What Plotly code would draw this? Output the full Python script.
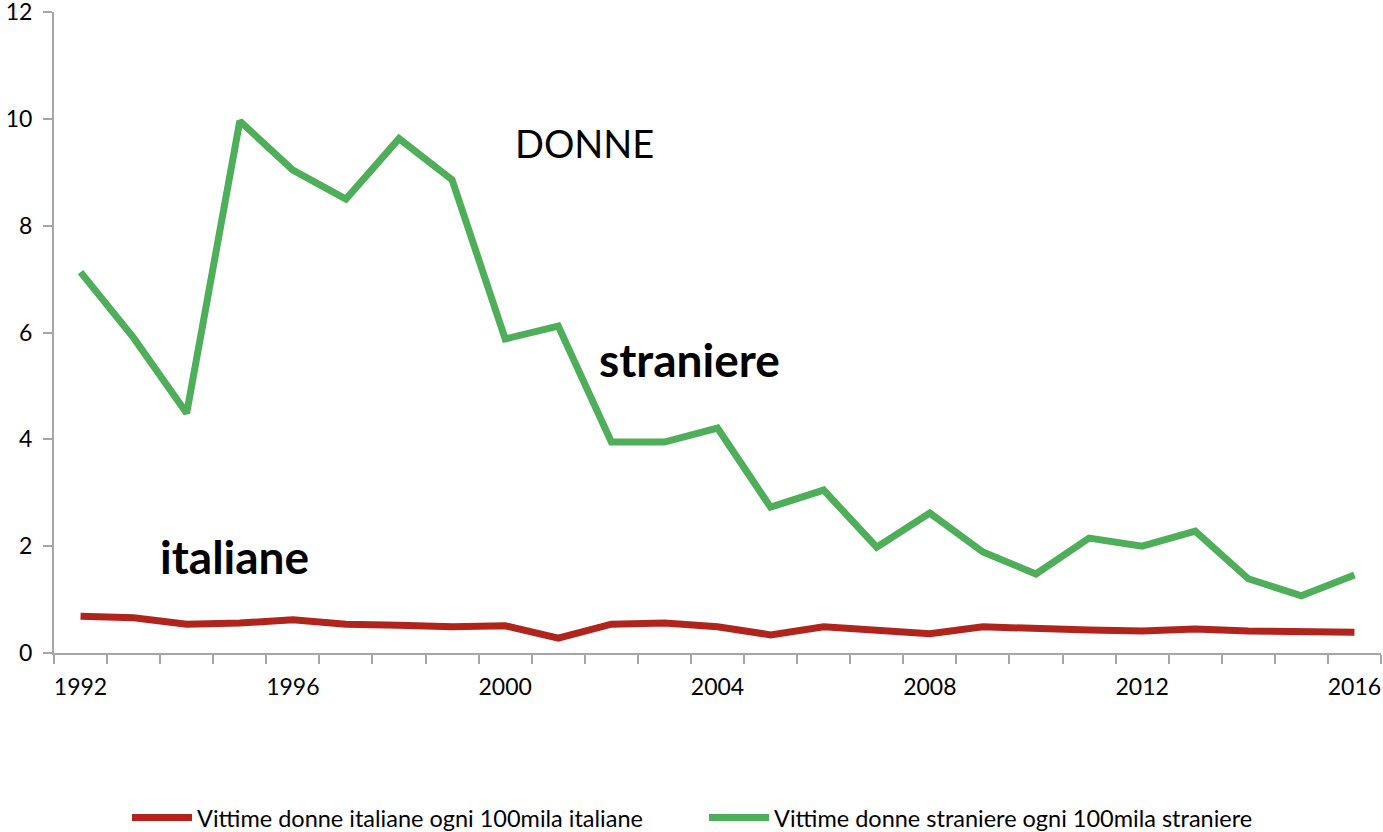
import plotly.graph_objects as go

anni = list(range(1992, 2017))

italiane = [0.69, 0.66, 0.54, 0.56, 0.62, 0.54, 0.52, 0.49, 0.51, 0.28,
            0.54, 0.56, 0.49, 0.34, 0.49, 0.41, 0.36, 0.49, 0.45, 0.43,
            0.41, 0.45, 0.41, 0.41, 0.39]

straniere = [7.13, 5.9, 4.49, 9.96, 9.04, 8.5, 9.63, 8.86, 5.88, 6.12,
             3.95, 3.95, 4.21, 2.73, 3.05, 1.98, 2.62, 1.89, 1.48, 2.15,
             2.0, 2.28, 1.39, 1.07, 1.46]

etichette_x = [1992, 1996, 2000, 2004, 2008, 2012, 2016]
etichette_y = [0, 2, 4, 6, 8, 10, 12]

font = "Lato, Liberation Sans, sans-serif"

fig = go.Figure()
fig.add_trace(go.Scatter(x=anni, y=italiane, mode="lines",
                         name="Vittime donne italiane ogni 100mila italiane",
                         line=dict(color="#B0241C", width=7)))
fig.add_trace(go.Scatter(x=anni, y=straniere, mode="lines",
                         name="Vittime donne straniere ogni 100mila straniere",
                         line=dict(color="#4FAE5A", width=7)))

fig.add_annotation(x=2001.5, y=9.55, text="DONNE", showarrow=False,
                   font=dict(size=38, color="black", family=font))
fig.add_annotation(x=2003.47, y=5.49, text="<b>straniere</b>", showarrow=False,
                   font=dict(size=46, color="black", family=font))
fig.add_annotation(x=1994.9, y=1.8, text="<b>italiane</b>", showarrow=False,
                   font=dict(size=46, color="black", family=font))

fig.update_xaxes(range=[1991.5, 2016.5], tickvals=etichette_x, ticks="",
                 showgrid=False, zeroline=False, showline=True,
                 linecolor="#A6A6A6", linewidth=2, automargin=False,
                 tickfont=dict(size=23, color="black", family=font),
                 ticklabelstandoff=12, ticklabeloverflow="allow",
                 minor=dict(ticks="outside", tick0=1991.5, dtick=1,
                            ticklen=9, tickcolor="#A6A6A6", tickwidth=2,
                            showgrid=False))
fig.update_yaxes(range=[0, 12.001], tickvals=etichette_y, ticks="outside",
                 ticklen=9, tickcolor="#A6A6A6", tickwidth=2,
                 showgrid=False, zeroline=False, showline=True,
                 linecolor="#A6A6A6", linewidth=2, automargin=False,
                 tickfont=dict(size=23, color="black", family=font),
                 ticklabelstandoff=6, ticklabeloverflow="allow")

fig.update_layout(
    width=1383, height=832,
    margin=dict(l=54, r=2, t=12, b=179, autoexpand=False),
    plot_bgcolor="white", paper_bgcolor="white",
    font=dict(family=font, color="black"),
    legend=dict(orientation="h", x=0.055, xanchor="left", y=-0.257,
                yanchor="middle", font=dict(size=23.5), itemwidth=60,
                tracegroupgap=0, entrywidth=502),
)

# niente margine del body, così la figura riempie la finestra
fig.write_html("out.html", config={"displayModeBar": False},
               post_script="document.body.style.margin='0px';")
